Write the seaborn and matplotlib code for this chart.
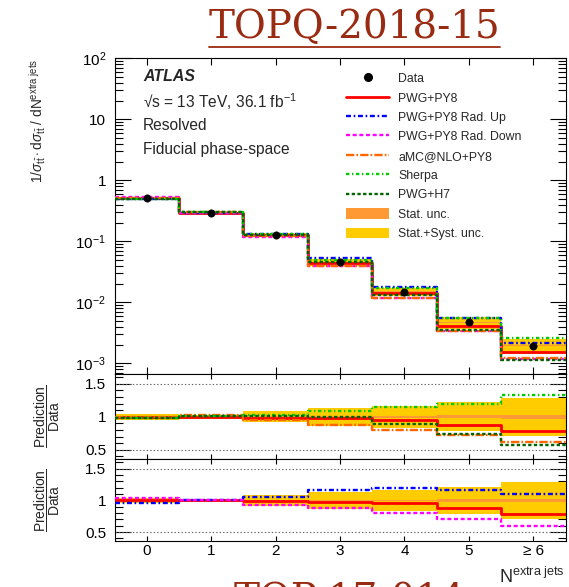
import numpy as np
import pandas as pd
import matplotlib
matplotlib.use("Agg")
import matplotlib.pyplot as plt
import seaborn as sns
from matplotlib.lines import Line2D
from matplotlib.patches import Patch
from matplotlib.ticker import LogLocator, MultipleLocator, NullLocator, NullFormatter

# Normalised differential cross-section vs number of extra jets
n_extra_jets = [0, 1, 2, 3, 4, 5, 6]
xtick_labels = ["0", "1", "2", "3", "4", "5", "≥ 6"]
data_xsec = [0.51, 0.294, 0.127, 0.0453, 0.0149, 0.0047, 0.00195]

# Relative uncertainties of the measurement
stat_unc = [0.006, 0.006, 0.008, 0.010, 0.015, 0.020, 0.030]
total_unc = [0.045, 0.030, 0.080, 0.135, 0.165, 0.220, 0.285]

# Prediction / data ratios
ratio_pwg_py8 = [1.00, 1.00, 0.985, 0.975, 0.955, 0.880, 0.785]
ratio_rad_up = [0.968, 1.00, 1.054, 1.160, 1.198, 1.170, 1.100]
ratio_rad_down = [1.032, 1.00, 0.930, 0.878, 0.804, 0.713, 0.597]
ratio_amcnlo = [1.00, 1.02, 0.945, 0.879, 0.794, 0.718, 0.617]
ratio_sherpa = [0.98, 1.01, 1.020, 1.080, 1.147, 1.188, 1.330]
ratio_pwg_h7 = [0.98, 1.01, 1.010, 1.000, 0.894, 0.742, 0.576]

main_ticks = [1e-3, 1e-2, 1e-1, 1, 10, 100]
main_tick_labels = [r"$10^{-3}$", r"$10^{-2}$", r"$10^{-1}$", "1", "10", r"$10^{2}$"]
ratio_ticks = [0.5, 1.0, 1.5]
ratio_tick_labels = ["0.5", "1", "1.5"]

sns.set_style("ticks")
plt.rcParams.update({
    "font.family": ["Liberation Sans", "DejaVu Sans"],
    "mathtext.fontset": "custom",
    "mathtext.rm": "Liberation Sans",
    "mathtext.it": "Liberation Sans:italic",
    "mathtext.bf": "Liberation Sans:bold",
    "mathtext.sf": "Liberation Sans",
    "lines.scale_dashes": False,
    "axes.linewidth": 0.8,
    "axes.edgecolor": "black",
    "xtick.color": "black",
    "ytick.color": "black",
})

predictions = {
    "PWG+PY8": ratio_pwg_py8,
    "PWG+PY8 Rad. Up": ratio_rad_up,
    "PWG+PY8 Rad. Down": ratio_rad_down,
    "aMC@NLO+PY8": ratio_amcnlo,
    "Sherpa": ratio_sherpa,
    "PWG+H7": ratio_pwg_h7,
}
styles = {
    "PWG+PY8": dict(color="#ff0000", linestyle="-", linewidth=2.0),
    "PWG+PY8 Rad. Up": dict(color="#0000ff", linestyle=(0, (3.6, 1.9, 1.2, 1.9)), linewidth=1.7),
    "PWG+PY8 Rad. Down": dict(color="#ff00ff", linestyle=(0, (2.9, 1.9)), linewidth=1.7),
    "aMC@NLO+PY8": dict(color="#ff6600", linestyle=(0, (6.0, 1.5, 1.2, 1.5)), linewidth=1.7),
    "Sherpa": dict(color="#00cc00", linestyle=(0, (2.4, 1.9, 1.0, 1.9)), linewidth=1.7),
    "PWG+H7": dict(color="#006400", linestyle=(0, (2.4, 1.7)), linewidth=1.7),
}
STAT_COLOR = "#ff9933"
TOTAL_COLOR = "#ffcc00"

W, H = 569, 587
fig = plt.figure(figsize=(W / 100, H / 100), dpi=100)


def px_axes(x0, y0, x1, y1):
    return fig.add_axes([x0 / W, 1 - y1 / H, (x1 - x0) / W, (y1 - y0) / H])


ax_main = px_axes(114.5, 58.3, 565.5, 373.5)
ax_r1 = px_axes(114.5, 373.5, 565.5, 459)
ax_r2 = px_axes(114.5, 459, 565.5, 541)

edges = np.arange(len(n_extra_jets) + 1) - 0.5
data = np.asarray(data_xsec)


def stepped(vals):
    v = np.asarray(vals, float)
    return pd.DataFrame({"x": edges, "y": np.append(v, v[-1])})


def draw_bands(ax, center):
    for unc, col in ((total_unc, TOTAL_COLOR), (stat_unc, STAT_COLOR)):
        u = np.asarray(unc)
        lo = stepped(center * (1 - u))["y"]
        hi = stepped(center * (1 + u))["y"]
        ax.fill_between(edges, lo, hi, step="post", color=col, lw=0, zorder=1)


def draw_step(ax, vals, name):
    df = stepped(vals)
    sns.lineplot(data=df, x="x", y="y", ax=ax, drawstyle="steps-post",
                 legend=False, zorder=3, **styles[name])


# Main panel
ax_main.set_yscale("log")
draw_bands(ax_main, data)
for name, ratio in predictions.items():
    draw_step(ax_main, data * np.asarray(ratio), name)
sns.scatterplot(x=n_extra_jets, y=data_xsec, ax=ax_main, color="black",
                edgecolor="black", s=28, zorder=10, legend=False)
ax_main.set_ylim(6.8e-4, 100)
ax_main.set_yticks(main_ticks, labels=main_tick_labels)
ax_main.yaxis.set_minor_locator(LogLocator(base=10, subs=np.arange(2, 10), numticks=20))
ax_main.yaxis.set_minor_formatter(NullFormatter())

# Ratio panels
ratio_sets = [
    (ax_r1, ["PWG+PY8", "aMC@NLO+PY8", "Sherpa", "PWG+H7"]),
    (ax_r2, ["PWG+PY8", "PWG+PY8 Rad. Up", "PWG+PY8 Rad. Down"]),
]
for ax, names in ratio_sets:
    draw_bands(ax, np.ones(len(n_extra_jets)))
    for name in names:
        draw_step(ax, predictions[name], name)
    for lvl in (0.5, 1.5):
        ax.axhline(lvl, color="#666666", lw=0.8, ls=(0, (1, 1.5)), zorder=2)
    ax.set_ylim(0.36, 1.655)
    ax.set_yticks(ratio_ticks, labels=ratio_tick_labels)
    ax.yaxis.set_minor_locator(MultipleLocator(0.1))

for ax in (ax_main, ax_r1, ax_r2):
    ax.set_xlim(-0.5, 6.5)
    ax.set_xticks(n_extra_jets, labels=xtick_labels)
    ax.xaxis.set_minor_locator(NullLocator())
    ax.set_xlabel("")
    ax.set_ylabel("")
    ax.tick_params(axis="both", which="both", direction="in", top=True, right=True,
                   width=0.8, colors="black")
    ax.tick_params(axis="y", which="major", length=11.2, pad=6, labelsize=11)
    ax.tick_params(axis="y", which="minor", length=5.5)
    ax.tick_params(axis="x", which="major", length=4.7 if ax is ax_main else 3.5,
                   labelsize=11, pad=2)
    for sp in ax.spines.values():
        sp.set_linewidth(0.8)
        sp.set_color("black")
ax_main.tick_params(labelbottom=False)
ax_r1.tick_params(labelbottom=False)

# Labels inside the main panel
ax_main.text(0.063, 0.9407, "ATLAS", transform=ax_main.transAxes, fontsize=11.4,
             fontweight="bold", fontstyle="italic", va="center")
ax_main.text(0.063, 0.861, "√s = 13 TeV, 36.1 fb$^{-1}$", transform=ax_main.transAxes,
             fontsize=11.2, va="center")
ax_main.text(0.063, 0.788, "Resolved", transform=ax_main.transAxes, fontsize=11.2, va="center")
ax_main.text(0.063, 0.712, "Fiducial phase-space", transform=ax_main.transAxes,
             fontsize=11.2, va="center")

handles = [Line2D([], [], marker="o", color="black", ls="none", markersize=5.5)]
labels = ["Data"]
for name in predictions:
    handles.append(Line2D([], [], **styles[name]))
    labels.append(name)
handles += [Patch(facecolor=STAT_COLOR, edgecolor="none"),
            Patch(facecolor=TOTAL_COLOR, edgecolor="none")]
labels += ["Stat. unc.", "Stat.+Syst. unc."]
ax_main.legend(handles, labels, loc="upper left", bbox_to_anchor=(0.513, 0.955),
               frameon=False, fontsize=8.8, borderpad=0, borderaxespad=0,
               handlelength=3.55, handletextpad=0.74, handleheight=1.0,
               labelspacing=0.55)

# Axis titles
fig.text(38 / W, 1 - 59 / H,
         r"1/$\sigma_{\mathrm{t\bar{t}}}\cdot$d$\sigma_{\mathrm{t\bar{t}}}$ / dN$^{\mathrm{extra\ jets}}$",
         rotation=90, ha="center", va="top", fontsize=9.8)
for y_mid in (416.5, 500.0):
    fig.text(47 / W, 1 - y_mid / H, r"$\dfrac{\mathrm{Prediction}}{\mathrm{Data}}$",
             rotation=90, ha="center", va="center", fontsize=10)
fig.text(565 / W, 1 - 583 / H, r"N$^{\mathrm{extra\ jets}}$", ha="right",
         va="baseline", fontsize=13)

# Headings
title_color = "#9a2b13"
title = fig.text(354.5 / W, 1 - 37.5 / H, "TOPQ-2018-15", fontfamily="DejaVu Serif",
                 fontsize=28, color=title_color, ha="center", va="baseline")
fig.text(350 / W, 1 - 611 / H, "TOP-17-014", fontfamily="DejaVu Serif",
         fontsize=28, color=title_color, ha="center", va="baseline")
fig.canvas.draw()
bb = title.get_window_extent()
fig.add_artist(Line2D([bb.x0 / W, bb.x1 / W], [1 - 46.5 / H] * 2,
                      transform=fig.transFigure, color=title_color, lw=1.3))

fig.savefig("out.png", dpi=100)
